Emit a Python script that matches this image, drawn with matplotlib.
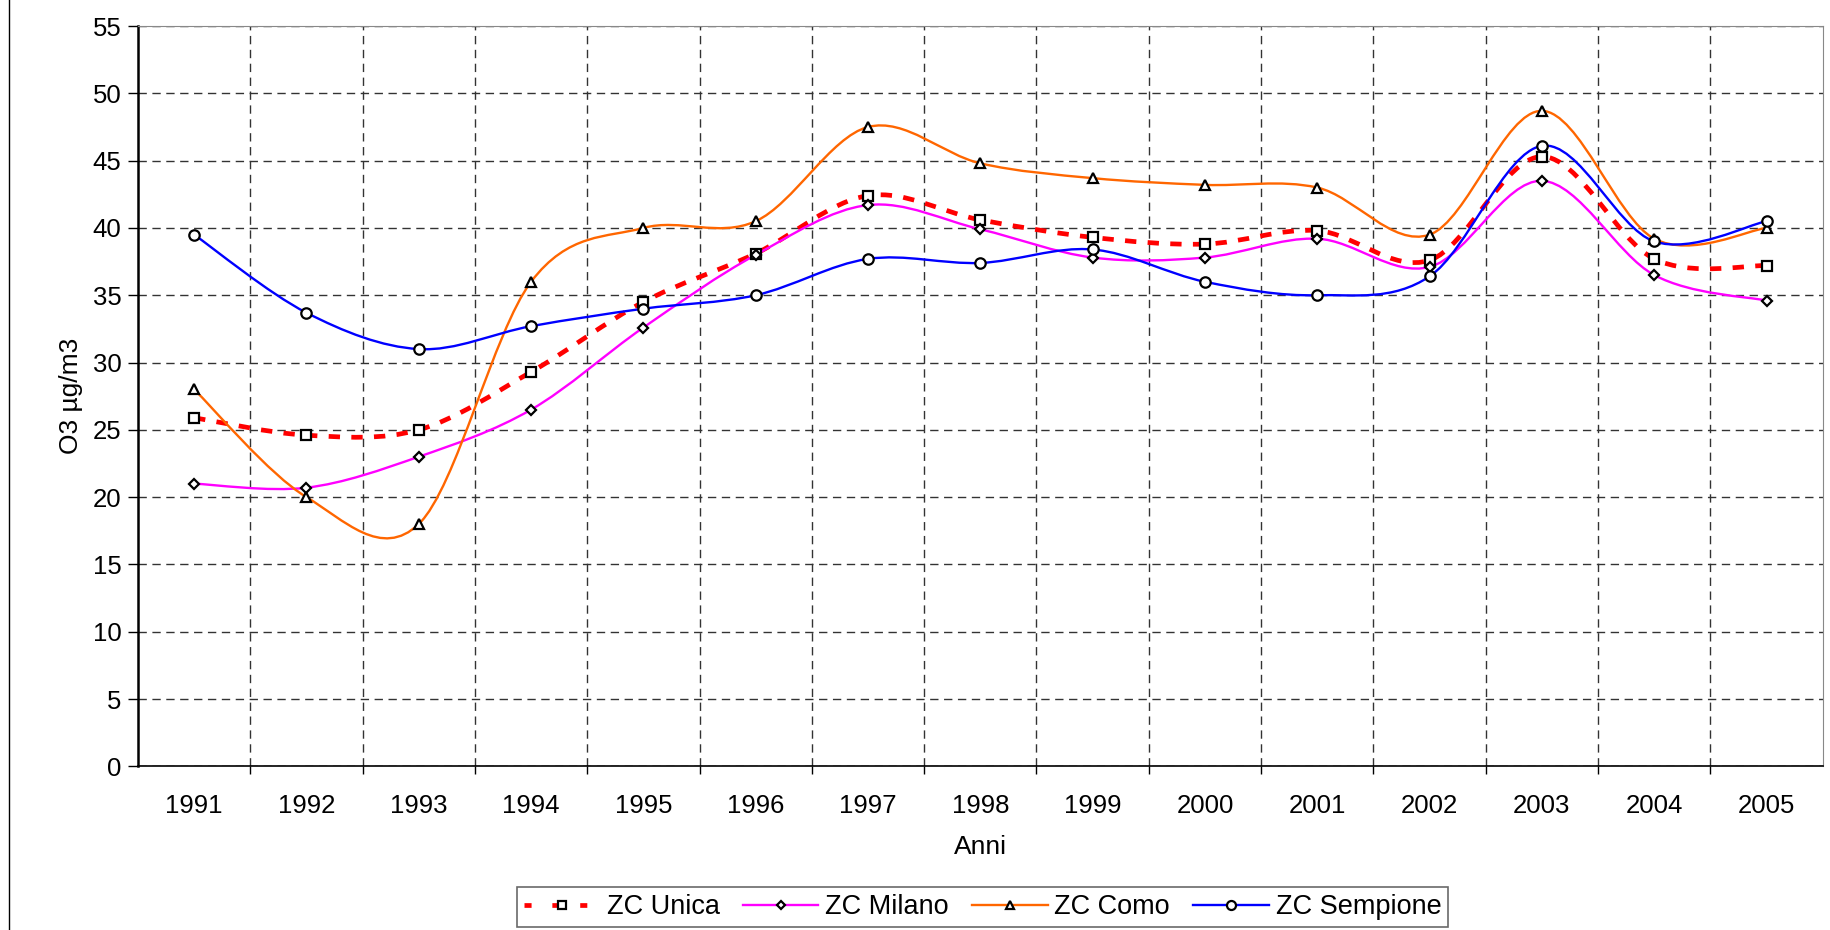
import numpy as np
import matplotlib
matplotlib.use("Agg")
import matplotlib.pyplot as plt
from matplotlib.path import Path
from matplotlib.patches import PathPatch
from matplotlib.lines import Line2D
from matplotlib.ticker import MultipleLocator, FixedLocator

plt.rcParams['font.family'] = ['Liberation Sans', 'DejaVu Sans']

# --- data ---
anni = ["1991", "1992", "1993", "1994", "1995", "1996", "1997", "1998",
        "1999", "2000", "2001", "2002", "2003", "2004", "2005"]

zc_unica = [25.9, 24.6, 25.0, 29.3, 34.5, 38.1, 42.4, 40.6, 39.3, 38.8,
            39.8, 37.6, 45.3, 37.7, 37.2]
zc_milano = [21.0, 20.7, 23.0, 26.5, 32.6, 38.0, 41.7, 39.9, 37.8, 37.8,
             39.2, 37.1, 43.5, 36.5, 34.6]
zc_como = [28.0, 20.0, 18.0, 36.0, 40.0, 40.5, 47.5, 44.8, 43.7, 43.2,
           43.0, 39.5, 48.7, 39.2, 40.0]
zc_sempione = [39.5, 33.7, 31.0, 32.7, 34.0, 35.0, 37.7, 37.4, 38.4, 36.0,
               35.0, 36.4, 46.1, 39.0, 40.5]

series = [
    ("ZC Unica", zc_unica, "#ff0000", (0, (2.4, 2.4)), 3.4, "s", 7),
    ("ZC Milano", zc_milano, "#ff00ff", "-", 1.7, "D", 5.2),
    ("ZC Como", zc_como, "#ff6600", "-", 1.7, "^", 7),
    ("ZC Sempione", zc_sempione, "#0000ff", "-", 1.7, "o", 7.5),
]


def smooth_path(xs, ys):
    # Excel-style smoothed line: cubic Bezier through the points
    pts = np.column_stack([xs, ys]).astype(float)
    n = len(pts)
    verts = [pts[0]]
    codes = [Path.MOVETO]
    for i in range(n - 1):
        p0 = pts[i - 1] if i > 0 else pts[i]
        p1 = pts[i]
        p2 = pts[i + 1]
        p3 = pts[i + 2] if i + 2 < n else pts[i + 1]
        c1 = p1 + (p2 - p0) / 6.0
        c2 = p2 - (p3 - p1) / 6.0
        verts += [c1, c2, p2]
        codes += [Path.CURVE4] * 3
    return Path(verts, codes)


fig = plt.figure(figsize=(18.3, 9.3), dpi=100)
ax = fig.add_axes([0.0754, 0.176, 0.9206, 0.796])

x = np.arange(len(anni))
handles = []
for name, vals, color, ls, lw, mk, ms in series:
    patch = PathPatch(smooth_path(x, vals), facecolor="none", edgecolor=color,
                      linewidth=lw, linestyle=ls, zorder=3, capstyle="butt")
    ax.add_patch(patch)
    ax.plot(x, vals, linestyle="none", marker=mk, markersize=ms,
            markerfacecolor="white", markeredgecolor="black",
            markeredgewidth=1.6, zorder=4)
    leg_ls = (0, (1.5, 4.4)) if name == "ZC Unica" else ls
    handles.append(Line2D([], [], color=color, linestyle=leg_ls, linewidth=lw,
                          marker=mk, markersize=ms - 1, markerfacecolor="white",
                          markeredgecolor="black", markeredgewidth=1.6))

ax.set_xlim(-0.5, len(anni) - 0.5)
ax.set_ylim(0, 55)
ax.yaxis.set_major_locator(MultipleLocator(5))
ax.set_xticks(x)
ax.set_xticklabels(anni)
ax.xaxis.set_minor_locator(FixedLocator(np.arange(0.5, len(anni) - 1, 1.0)))

ax.tick_params(axis='x', which='major', length=0, pad=20, labelsize=18.5)
ax.tick_params(axis='x', which='minor', length=6, width=1, direction='out')
ax.tick_params(axis='y', which='major', length=7, width=1, direction='out',
               labelsize=18.5, pad=5)

ax.grid(True, axis='x', which='minor', linestyle=(0, (6, 4)), color='#333333',
        linewidth=1)
ax.grid(True, axis='y', which='major', linestyle=(0, (6, 4)), color='#333333',
        linewidth=1)
ax.grid(False, axis='x', which='major')
ax.set_axisbelow(True)

ax.spines['left'].set_linewidth(1.8)
ax.spines['bottom'].set_linewidth(1.2)
ax.spines['top'].set_color('#888888')
ax.spines['right'].set_color('#888888')

ax.set_xlabel("Anni", fontsize=19, va='center')
ax.set_ylabel("O3 µg/m3", fontsize=19, va='center')
ax.xaxis.set_label_coords(0.5, -0.109)
ax.yaxis.set_label_coords(-0.040, 0.5)

leg = fig.legend(handles, [s[0] for s in series], loc='center',
                 bbox_to_anchor=(0.537, 0.0245), ncol=4, fontsize=19.5,
                 frameon=True, fancybox=False, edgecolor='#444444',
                 handlelength=2.8, columnspacing=0.85, handletextpad=0.25,
                 borderpad=0.25, borderaxespad=0)
leg.get_frame().set_linewidth(1.2)

# left border of the chart area
fig.add_artist(Line2D([9 / 1830, 9 / 1830], [0, 1], color='black',
                      linewidth=1, transform=fig.transFigure))

fig.savefig("out.png", dpi=100)
